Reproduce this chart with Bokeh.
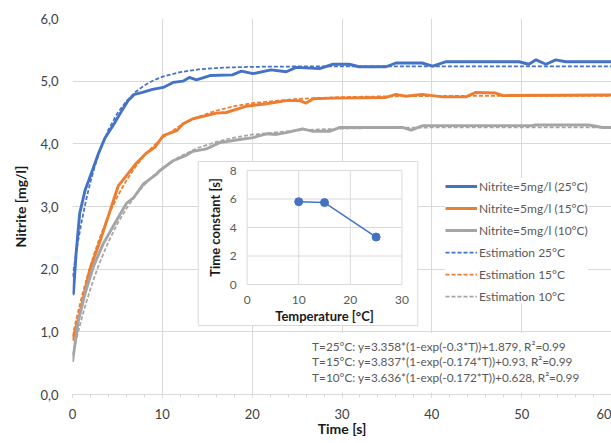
import math
from bokeh.plotting import figure
from bokeh.models import (Range1d, Legend, LegendItem, Label, SingleIntervalTicker,
                          CustomJSTickFormatter)
from bokeh.core.properties import value
from bokeh.embed import file_html
from bokeh.resources import INLINE

FONT = "Lato"
BLUE, ORANGE, GRAY = "#4472C4", "#ED7D31", "#A5A5A5"
GRID = "#d9d9d9"

t25 = [0.0, 0.1, 0.4, 0.8, 1.4, 2.1, 2.9, 3.6, 4.5, 5.5, 6.2, 6.9, 7.8, 8.9, 10.1, 11.2,
       12.3, 13.0, 13.8, 15.3, 17.8, 18.8, 20.1, 22.1, 23.8, 24.9, 27.5, 29.0, 30.8, 31.9,
       34.9, 36.0, 38.9, 40.1, 41.6, 49.7, 50.8, 51.6, 52.7, 53.8, 54.9, 60.0]
v25 = [1.60, 1.61, 2.25, 2.89, 3.26, 3.53, 3.85, 4.09, 4.29, 4.53, 4.69, 4.79, 4.82, 4.87,
       4.90, 4.98, 5.00, 5.06, 5.02, 5.09, 5.10, 5.16, 5.12, 5.18, 5.15, 5.22, 5.20, 5.27,
       5.27, 5.23, 5.23, 5.29, 5.29, 5.24, 5.31, 5.31, 5.27, 5.34, 5.27, 5.34, 5.31, 5.31]

t15 = [0.0, 0.8, 1.9, 3.1, 4.2, 5.1, 6.2, 7.1, 8.2, 9.2, 10.1, 11.6, 12.3, 13.4, 14.9,
       16.0, 17.1, 19.4, 21.6, 23.8, 25.3, 26.0, 26.8, 29.0, 34.9, 36.0, 37.1, 38.9, 41.2,
       43.8, 44.9, 47.1, 47.9, 60.0]
v15 = [0.86, 1.29, 1.98, 2.46, 2.94, 3.33, 3.53, 3.69, 3.85, 3.95, 4.13, 4.21, 4.32, 4.40,
       4.45, 4.49, 4.50, 4.60, 4.64, 4.69, 4.69, 4.65, 4.72, 4.73, 4.74, 4.79, 4.76, 4.79,
       4.75, 4.75, 4.82, 4.81, 4.77, 4.78]

t10 = [0.0, 0.65, 1.4, 2.3, 3.4, 4.7, 6.0, 6.8, 7.9, 9.4, 9.7, 11.2, 12.7, 13.4, 14.9, 16.4,
       18.6, 20.1, 21.6, 22.7, 23.8, 25.6, 26.8, 28.6, 29.7, 33.1, 36.8, 37.7, 39.0, 51.2,
       51.5, 57.5, 59.0, 60.0]
v10 = [0.52, 1.18, 1.61, 2.03, 2.40, 2.73, 3.05, 3.14, 3.36, 3.52, 3.57, 3.73, 3.82, 3.88,
       3.92, 4.02, 4.07, 4.10, 4.16, 4.15, 4.18, 4.24, 4.20, 4.20, 4.26, 4.26, 4.26, 4.22,
       4.29, 4.29, 4.30, 4.30, 4.26, 4.26]

# ---- estimation curves ----
t_est = [0, 0.5, 1, 1.5, 2, 2.5, 3, 4, 5, 6, 7, 8, 9, 10, 12, 14, 16, 18, 20, 25, 30, 35,
         40, 50, 60]
e25 = [1.879, 2.347, 2.749, 3.096, 3.394, 3.651, 3.872, 4.226, 4.488, 4.682, 4.826, 4.932,
       5.011, 5.070, 5.145, 5.187, 5.209, 5.222, 5.229, 5.235, 5.237, 5.237, 5.237, 5.237,
       5.237]
e15 = [0.930, 1.250, 1.543, 1.811, 2.058, 2.283, 2.490, 2.854, 3.159, 3.416, 3.632, 3.813,
       3.965, 4.094, 4.292, 4.431, 4.530, 4.600, 4.649, 4.717, 4.746, 4.758, 4.763, 4.767,
       4.767]
e10 = [0.628, 0.928, 1.202, 1.455, 1.686, 1.899, 2.094, 2.437, 2.725, 2.968, 3.173, 3.346,
       3.491, 3.613, 3.803, 3.937, 4.032, 4.100, 4.147, 4.215, 4.243, 4.255, 4.261, 4.264,
       4.264]

series_labels = ["Nitrite=5mg/l (25°C)", "Nitrite=5mg/l (15°C)", "Nitrite=5mg/l (10°C)"]
est_labels = ["Estimation 25°C", "Estimation 15°C", "Estimation 10°C"]

# ---- inset data ----
temps = [10, 15, 25]
tau = [5.81, 5.75, 3.33]
ins_xticks = [0, 10, 20, 30]
ins_yticks = [0, 2, 4, 6, 8]

equations = [
    "T=25°C: y=3.358*(1-exp(-0.3*T))+1.879, R²=0.99",
    "T=15°C: y=3.837*(1-exp(-0.174*T))+0.93, R²=0.99",
    "T=10°C: y=3.636*(1-exp(-0.172*T))+0.628, R²=0.99",
]

X_END = 60

p = figure(width=611, height=443, output_backend="svg", toolbar_location=None,
           x_range=Range1d(0, X_END), y_range=Range1d(0, 6),
           min_border_left=72, min_border_right=0, min_border_top=18, min_border_bottom=49)
p.outline_line_color = None
p.background_fill_color = "white"

xt = SingleIntervalTicker(interval=10, num_minor_ticks=5)
yt = SingleIntervalTicker(interval=1, num_minor_ticks=0)
p.xaxis.ticker = xt
p.yaxis.ticker = yt
p.xgrid.ticker = xt
p.ygrid.ticker = yt
p.xgrid.grid_line_color = GRID
p.ygrid.grid_line_color = GRID

p.xaxis.formatter = CustomJSTickFormatter(code="return tick.toFixed(0);")
p.yaxis.formatter = CustomJSTickFormatter(code="return tick.toFixed(1).replace('.', ',');")

for ax in (p.xaxis, p.yaxis):
    ax.major_label_text_font = FONT
    ax.major_label_text_font_size = "13px"
    ax.major_label_text_color = "#404040"
    ax.axis_label_text_font = FONT
    ax.axis_label_text_font_size = "14px"
    ax.axis_label_text_font_style = "bold"
    ax.axis_label_text_color = "#1a1a1a"

p.xaxis.axis_label = "Time [s]"
p.yaxis.axis_label = "Nitrite [mg/l]"
p.xaxis.axis_line_color = GRID
p.xaxis.major_tick_line_color = GRID
p.xaxis.minor_tick_line_color = GRID
p.xaxis.major_tick_in = 0
p.xaxis.major_tick_out = 3
p.xaxis.minor_tick_in = 0
p.xaxis.minor_tick_out = 3
p.xaxis.major_label_standoff = 11
p.xaxis.axis_label_standoff = -2

p.yaxis.axis_line_color = None
p.yaxis.major_tick_line_color = None
p.yaxis.minor_tick_line_color = None
p.yaxis.major_label_standoff = 8
p.yaxis.axis_label_standoff = 8

# measured lines
r1 = p.line(t25, v25, line_color=BLUE, line_width=2.9, line_join="round")
r2 = p.line(t15, v15, line_color=ORANGE, line_width=2.9, line_join="round")
r3 = p.line(t10, v10, line_color=GRAY, line_width=2.9, line_join="round")
# estimations
r4 = p.line(t_est, e25, line_color=BLUE, line_width=1.75, line_dash="4 2")
r5 = p.line(t_est, e15, line_color=ORANGE, line_width=1.75, line_dash="4 2")
r6 = p.line(t_est, e10, line_color=GRAY, line_width=1.75, line_dash="4 2")

# equation box
p.quad(left=25.3, right=X_END, bottom=0.03, top=0.98, fill_color="white", line_color=None)
for txt, yy in zip(equations, [0.771, 0.527, 0.276]):
    p.add_layout(Label(x=26.67, y=yy, text=txt, text_baseline="middle", text_align="left",
                       text_font=FONT, text_font_size="11.8px", text_color="#595959"))

# inset
p.quad(left=14.0, right=38.44, bottom=1.101, top=3.718, fill_color="white",
       line_color=GRID, line_width=1)
ins = p.subplot(x_source=Range1d(0, 30), y_source=Range1d(0, 8),
                x_target=Range1d(19.44, 36.67), y_target=Range1d(1.755, 3.574))
ins.segment(x0=ins_xticks, y0=[ins_yticks[0]] * len(ins_xticks), x1=ins_xticks,
            y1=[ins_yticks[-1]] * len(ins_xticks), line_color=GRID, line_width=1)
ins.segment(x0=[ins_xticks[0]] * len(ins_yticks), y0=ins_yticks,
            x1=[ins_xticks[-1]] * len(ins_yticks), y1=ins_yticks, line_color=GRID, line_width=1)
ins.line(temps, tau, line_color=BLUE, line_width=1.5)
ins.scatter(temps, tau, size=8, fill_color=BLUE, line_color=BLUE)
ins.text(x=ins_xticks, y=[-1.07] * len(ins_xticks), text=[str(v) for v in ins_xticks],
         text_align="center", text_baseline="middle", text_font=value(FONT),
         text_font_size="12px", text_color="#595959")
ins.text(x=[-2.0] * len(ins_yticks), y=ins_yticks, text=[str(v) for v in ins_yticks],
         text_align="right", text_baseline="middle", text_font=value(FONT),
         text_font_size="12px", text_color="#595959")
ins.text(x=[15], y=[-2.2], text=["Temperature [°C]"], text_align="center",
         text_baseline="middle", text_font=value(FONT), text_font_size="13px",
         text_font_style="bold", text_color="#1a1a1a")
ins.text(x=[-6.2], y=[4], text=["Time constant [s]"], angle=math.pi / 2, text_align="center",
         text_baseline="middle", text_font=value(FONT), text_font_size="13px",
         text_font_style="bold", text_color="#1a1a1a")

legend = Legend(items=[LegendItem(label=l, renderers=[r]) for l, r in
                       zip(series_labels + est_labels, [r1, r2, r3, r4, r5, r6])],
                location=(373, 90), margin=0, padding=4, spacing=6,
                glyph_width=32, glyph_height=16, label_height=16, label_standoff=2,
                label_text_font=FONT, label_text_font_size="12px",
                label_text_color="#595959", border_line_color=None,
                background_fill_color="white", background_fill_alpha=1.0)
p.add_layout(legend)

open("out.html", "w").write(file_html(p, INLINE))
